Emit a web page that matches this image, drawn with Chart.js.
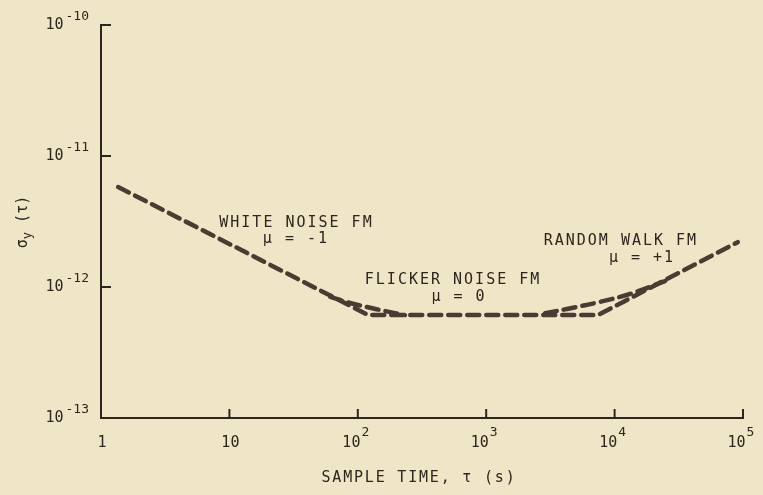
<!DOCTYPE html>
<html>
<head>
<meta charset="utf-8">
<script src="https://cdn.jsdelivr.net/npm/chart.js@4.4.1/dist/chart.umd.min.js"></script>
<style>
  html, body { margin: 0; padding: 0; background: #efe6c7; }
  #wrap { width: 763px; height: 495px; }
</style>
</head>
<body>
<div id="wrap"><canvas id="sigmaChart" width="763" height="495"></canvas></div>
<script>
// sigma_y(tau) vs sample time, log-log, dashed asymptotes

const xTicks = [1, 10, 100, 1000, 10000, 100000];
const xTickBase = ['1', '10', '10', '10', '10', '10'];
const xTickExp = ['', '', '2', '3', '4', '5'];

const yTicks = [1e-13, 1e-12, 1e-11, 1e-10];
const yTickBase = ['10', '10', '10', '10'];
const yTickExp = ['-13', '-12', '-11', '-10'];

// asymptotes: white noise -> flicker floor -> random walk
const asymTau = [1.36, 121, 7400, 91000];
const asymSigma = [5.8e-12, 6.1e-13, 6.1e-13, 2.2e-12];

// rounded curve near the two corners
const leftKneeTau = [61, 87, 120, 163, 233];
const leftKneeSigma = [8.4e-13, 7.55e-13, 7.0e-13, 6.55e-13, 6.1e-13];
const rightKneeTau = [2870, 4260, 7700, 13200, 24700];
const rightKneeSigma = [6.3e-13, 6.8e-13, 7.7e-13, 8.85e-13, 1.11e-12];

// labels on the plot (anchored in data units)
const noteText = ['WHITE NOISE FM', 'μ = -1', 'FLICKER NOISE FM', 'μ = 0', 'RANDOM WALK FM', 'μ = +1'];
const noteTau = [32.7, 32.4, 542, 603, 11000, 16070];
const noteSigma = [3.08e-12, 2.32e-12, 1.13e-12, 8.4e-13, 2.24e-12, 1.66e-12];

const paper = '#efe6c7';
const ink = '#2f241e';
const dashInk = '#4a3b33';
const mono = '"DejaVu Sans Mono", monospace';

const toPoints = (xs, ys) => xs.map((v, i) => ({ x: v, y: ys[i] }));

const dashStyle = {
    borderColor: dashInk,
    borderWidth: 4.5,
    borderDash: [12, 7],
    borderCapStyle: 'round',
    pointRadius: 0,
    fill: false
};

const paperPlugin = {
    id: 'paper',
    beforeDraw(chart) {
        const ctx = chart.ctx;
        ctx.save();
        ctx.fillStyle = paper;
        ctx.fillRect(0, 0, chart.width, chart.height);
        ctx.restore();
    },
    afterDraw(chart) {
        const { ctx, chartArea, scales } = chart;
        const x = scales.x, y = scales.y;
        ctx.save();
        ctx.strokeStyle = ink;
        ctx.fillStyle = ink;
        ctx.lineWidth = 2;

        // inward tick marks
        ctx.beginPath();
        xTicks.forEach((v, i) => {
            if (i === 0) return;
            const px = x.getPixelForValue(v);
            ctx.moveTo(px, chartArea.bottom);
            ctx.lineTo(px, chartArea.bottom - 9);
        });
        yTicks.forEach((v, i) => {
            if (i === 0) return;
            const py = y.getPixelForValue(v);
            ctx.moveTo(chartArea.left, py);
            ctx.lineTo(chartArea.left + 10, py);
        });
        ctx.stroke();

        // x tick labels
        ctx.textBaseline = 'middle';
        xTicks.forEach((v, i) => {
            const px = x.getPixelForValue(v);
            ctx.font = '15px ' + mono;
            ctx.textAlign = 'left';
            const bw = ctx.measureText(xTickBase[i]).width;
            let sw = 0;
            if (xTickExp[i]) {
                ctx.font = '13px ' + mono;
                sw = ctx.measureText(xTickExp[i]).width + 1;
            }
            const start = px - (bw + sw) / 2 + (xTickExp[i] ? -2 : 1);
            ctx.font = '15px ' + mono;
            ctx.fillText(xTickBase[i], start, chartArea.bottom + 25);
            if (xTickExp[i]) {
                ctx.font = '13px ' + mono;
                ctx.fillText(xTickExp[i], start + bw + 1, chartArea.bottom + 15);
            }
        });

        // y tick labels
        yTicks.forEach((v, i) => {
            const py = y.getPixelForValue(v);
            const right = chartArea.left - 12;
            ctx.font = '13px ' + mono;
            ctx.textAlign = 'right';
            const sw = ctx.measureText(yTickExp[i]).width;
            ctx.fillText(yTickExp[i], right, py - 8);
            ctx.font = '15px ' + mono;
            ctx.fillText(yTickBase[i], right - sw - 2, py);
        });

        // notes on the plot
        ctx.textAlign = 'center';
        ctx.font = '15px ' + mono;
        ctx.letterSpacing = '2px';
        noteText.forEach((t, i) => {
            ctx.fillText(t, x.getPixelForValue(noteTau[i]) + 1, y.getPixelForValue(noteSigma[i]));
        });

        // x axis title
        ctx.letterSpacing = '1.8px';
        ctx.fillText('SAMPLE TIME, τ (s)', (chartArea.left + chartArea.right) / 2 - 3, 478);
        ctx.letterSpacing = '0px';

        // y axis title, rotated
        ctx.translate(23, 222);
        ctx.rotate(-Math.PI / 2);
        ctx.textAlign = 'left';
        ctx.font = '15px ' + mono;
        const w1 = ctx.measureText('σ').width;
        ctx.font = '12px ' + mono;
        const w2 = ctx.measureText('y').width;
        ctx.font = '15px ' + mono;
        const w3 = ctx.measureText(' (τ)').width;
        let cx = -(w1 + w2 + w3) / 2;
        ctx.fillText('σ', cx, 0);
        cx += w1;
        ctx.font = '12px ' + mono;
        ctx.fillText('y', cx, 5);
        cx += w2;
        ctx.font = '15px ' + mono;
        ctx.fillText(' (τ)', cx, 0);
        ctx.restore();
    }
};

document.addEventListener('DOMContentLoaded', function() {
    const ctx = document.getElementById('sigmaChart').getContext('2d');

    new Chart(ctx, {
        type: 'line',
        data: {
            datasets: [
                Object.assign({ label: 'asymptotes', data: toPoints(asymTau, asymSigma), tension: 0 }, dashStyle),
                Object.assign({ label: 'left knee', data: toPoints(leftKneeTau, leftKneeSigma), tension: 0.4 }, dashStyle),
                Object.assign({ label: 'right knee', data: toPoints(rightKneeTau, rightKneeSigma), tension: 0.4 }, dashStyle)
            ]
        },
        options: {
            responsive: false,
            animation: false,
            layout: { padding: { left: 0, right: 20, top: 25, bottom: 0 } },
            scales: {
                x: {
                    type: 'logarithmic',
                    min: 1,
                    max: 100000,
                    afterBuildTicks: s => { s.ticks = xTicks.map(v => ({ value: v })); },
                    afterFit: s => { s.height = 77; },
                    grid: { display: false },
                    border: { display: true, color: ink, width: 2 },
                    ticks: { display: false }
                },
                y: {
                    type: 'logarithmic',
                    min: 1e-13,
                    max: 1e-10,
                    afterBuildTicks: s => { s.ticks = yTicks.map(v => ({ value: v })); },
                    afterFit: s => { s.width = 101; },
                    grid: { display: false },
                    border: { display: true, color: ink, width: 2 },
                    ticks: { display: false }
                }
            },
            plugins: {
                legend: { display: false },
                tooltip: { enabled: false }
            }
        },
        plugins: [paperPlugin]
    });
});
</script>
</body>
</html>
